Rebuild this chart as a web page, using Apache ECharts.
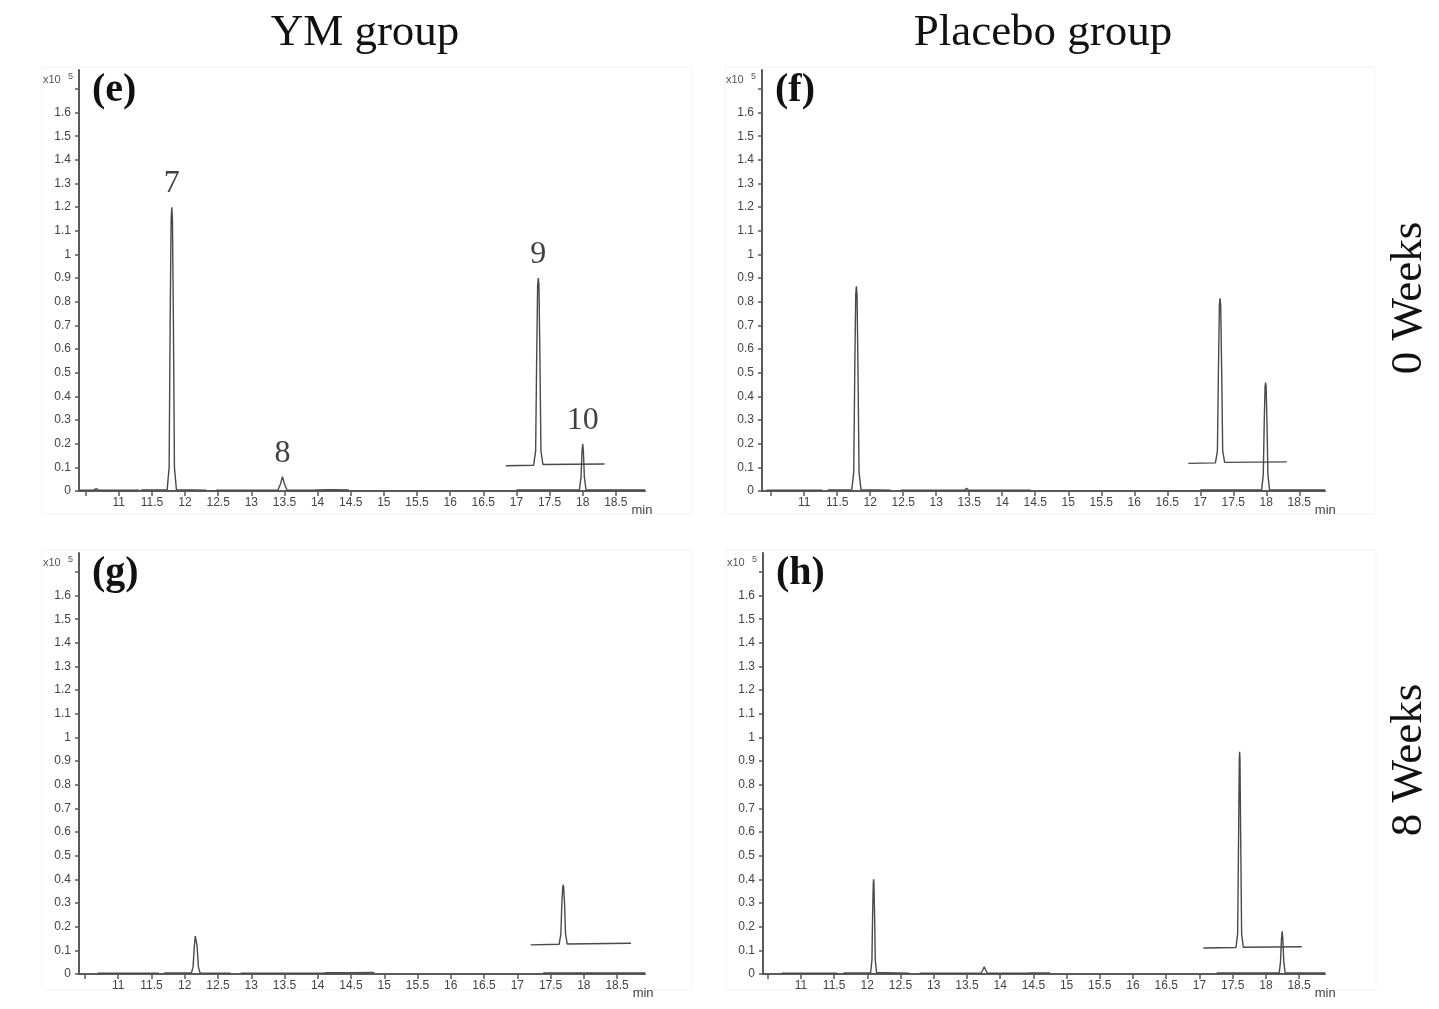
<!DOCTYPE html>
<html>
<head>
<meta charset="utf-8">
<title>GC chromatograms</title>
<script src="https://cdn.jsdelivr.net/npm/echarts@6/dist/echarts.min.js"></script>
<style>
html, body { margin: 0; padding: 0; background: #fff; }
#chart { width: 1439px; height: 1009px; }
</style>
</head>
<body>
<div id="chart"></div>
<script>
// axis ticks: retention time (min) and intensity (x10^5)
var timeTicks = [10.5, 11, 11.5, 12, 12.5, 13, 13.5, 14, 14.5, 15, 15.5, 16, 16.5, 17, 17.5, 18, 18.5];
var timeLabels = [11, 11.5, 12, 12.5, 13, 13.5, 14, 14.5, 15, 15.5, 16, 16.5, 17, 17.5, 18, 18.5];
var intensityTicks = [0, 0.1, 0.2, 0.3, 0.4, 0.5, 0.6, 0.7, 0.8, 0.9, 1, 1.1, 1.2, 1.3, 1.4, 1.5, 1.6, 1.7];
var intensityLabels = [0, 0.1, 0.2, 0.3, 0.4, 0.5, 0.6, 0.7, 0.8, 0.9, 1, 1.1, 1.2, 1.3, 1.4, 1.5, 1.6];

// (e) YM group, 0 weeks
var e_trace1 = [[10.41, 0.003], [10.62, 0.003], [10.66, 0.01], [10.70, 0.003], [11.31, 0.003]];
var e_trace2 = [[11.34, 0.004], [11.73, 0.005], [11.76, 0.1], [11.775, 0.7], [11.79, 1.15], [11.80, 1.2], [11.81, 1.15], [11.825, 0.7], [11.84, 0.1], [11.87, 0.006], [12.32, 0.003]];
var e_trace3 = [[12.47, 0.003], [13.40, 0.003], [13.44, 0.03], [13.47, 0.06], [13.50, 0.03], [13.54, 0.003], [13.93, 0.003], [13.96, 0.007], [13.99, 0.004], [14.17, 0.005], [14.20, 0.009], [14.23, 0.005], [14.47, 0.004]];
var e_trace4 = [[16.84, 0.107], [17.26, 0.109], [17.29, 0.17], [17.305, 0.55], [17.32, 0.87], [17.33, 0.9], [17.34, 0.87], [17.355, 0.55], [17.37, 0.17], [17.40, 0.112], [18.33, 0.114]];
var e_trace5 = [[17.0, 0.004], [17.95, 0.004], [17.975, 0.06], [17.99, 0.17], [18.0, 0.2], [18.01, 0.17], [18.025, 0.06], [18.05, 0.004], [18.94, 0.004]];
var e_peakNames = ['7', '8', '9', '10'];
var e_peakTimes = [11.80, 13.47, 17.33, 18.00];
var e_peakHeights = [1.2, 0.06, 0.9, 0.2];

// (f) Placebo group, 0 weeks
var f_trace1 = [[10.43, 0.003], [10.62, 0.003], [10.65, 0.009], [10.68, 0.003], [11.27, 0.003]];
var f_trace2 = [[11.36, 0.004], [11.72, 0.005], [11.75, 0.08], [11.765, 0.5], [11.78, 0.83], [11.79, 0.865], [11.80, 0.83], [11.815, 0.5], [11.83, 0.08], [11.86, 0.006], [12.31, 0.003]];
var f_trace3 = [[12.46, 0.003], [13.43, 0.003], [13.46, 0.012], [13.49, 0.003], [14.14, 0.003], [14.17, 0.009], [14.20, 0.003], [14.43, 0.003]];
var f_trace4 = [[16.82, 0.117], [17.23, 0.119], [17.26, 0.17], [17.275, 0.5], [17.29, 0.785], [17.30, 0.815], [17.31, 0.785], [17.325, 0.5], [17.34, 0.17], [17.37, 0.121], [18.31, 0.123]];
var f_trace5 = [[17.0, 0.004], [17.93, 0.004], [17.955, 0.07], [17.97, 0.3], [17.982, 0.44], [17.99, 0.458], [17.998, 0.44], [18.01, 0.3], [18.025, 0.07], [18.05, 0.004], [18.89, 0.004]];

// (g) YM group, 8 weeks
var g_trace1 = [[10.69, 0.003], [10.95, 0.003], [10.98, 0.008], [11.01, 0.003], [11.61, 0.003]];
var g_trace2 = [[11.69, 0.004], [12.10, 0.004], [12.125, 0.03], [12.145, 0.12], [12.158, 0.16], [12.165, 0.166], [12.172, 0.16], [12.185, 0.12], [12.205, 0.03], [12.23, 0.004], [12.69, 0.003]];
var g_trace3 = [[12.84, 0.003], [13.82, 0.003], [13.85, 0.009], [13.88, 0.003], [14.10, 0.003]];
var g_trace4 = [[14.10, 0.005], [14.45, 0.006], [14.48, 0.008], [14.51, 0.006], [14.85, 0.007]];
var g_trace5 = [[17.20, 0.123], [17.63, 0.126], [17.655, 0.17], [17.67, 0.3], [17.683, 0.365], [17.69, 0.377], [17.697, 0.365], [17.71, 0.3], [17.725, 0.17], [17.75, 0.127], [18.71, 0.13]];
var g_trace6 = [[17.39, 0.004], [18.37, 0.004], [18.40, 0.009], [18.43, 0.004], [18.92, 0.004]];

// (h) Placebo group, 8 weeks
var h_trace1 = [[10.71, 0.003], [10.91, 0.003], [10.94, 0.009], [10.97, 0.003], [11.55, 0.003]];
var h_trace2 = [[11.64, 0.004], [12.05, 0.004], [12.07, 0.06], [12.08, 0.25], [12.09, 0.38], [12.095, 0.40], [12.10, 0.38], [12.11, 0.25], [12.12, 0.06], [12.14, 0.005], [12.21, 0.005], [12.235, 0.013], [12.26, 0.005], [12.63, 0.003]];
var h_trace3 = [[12.79, 0.003], [13.71, 0.003], [13.74, 0.018], [13.76, 0.03], [13.78, 0.018], [13.81, 0.003], [14.40, 0.003], [14.43, 0.007], [14.46, 0.004], [14.75, 0.004]];
var h_trace4 = [[17.06, 0.11], [17.55, 0.112], [17.575, 0.17], [17.59, 0.6], [17.60, 0.91], [17.605, 0.94], [17.61, 0.91], [17.62, 0.6], [17.635, 0.17], [17.66, 0.113], [18.54, 0.115]];
var h_trace5 = [[17.26, 0.004], [18.20, 0.004], [18.22, 0.05], [18.235, 0.15], [18.245, 0.18], [18.255, 0.15], [18.27, 0.05], [18.29, 0.004], [18.89, 0.004]];

var panels = [
    { grid: { left: 79, top: 70, width: 566, height: 421 }, xMin: 10.40, xMax: 18.94,
      traces: [e_trace1, e_trace2, e_trace3, e_trace4, e_trace5], letter: '(e)' },
    { grid: { left: 762, top: 70, width: 563, height: 421 }, xMin: 10.36, xMax: 18.89,
      traces: [f_trace1, f_trace2, f_trace3, f_trace4, f_trace5], letter: '(f)' },
    { grid: { left: 79, top: 553, width: 566, height: 421 }, xMin: 10.41, xMax: 18.92,
      traces: [g_trace1, g_trace2, g_trace3, g_trace4, g_trace5, g_trace6], letter: '(g)' },
    { grid: { left: 763, top: 553, width: 562, height: 421 }, xMin: 10.43, xMax: 18.89,
      traces: [h_trace1, h_trace2, h_trace3, h_trace4, h_trace5], letter: '(h)' }
];

var axisColor = '#5a5a5a';
var tickFont = "'Liberation Sans Narrow', 'Liberation Sans', Arial, sans-serif";
var serif = "'Liberation Serif', 'DejaVu Serif', serif";

var option = {
    animation: false,
    backgroundColor: '#fff',
    grid: [],
    xAxis: [],
    yAxis: [],
    series: [],
    graphic: []
};

panels.forEach(function(p, gi) {
    option.grid.push(p.grid);
    option.xAxis.push({
        type: 'value', gridIndex: gi, min: p.xMin, max: p.xMax,
        splitLine: { show: false },
        axisLine: { onZero: false, lineStyle: { color: axisColor, width: 2 } },
        axisTick: { customValues: timeTicks, length: 5, lineStyle: { color: axisColor, width: 1.5 } },
        axisLabel: { customValues: timeLabels, margin: 6, fontSize: 12, color: '#444', fontFamily: tickFont },
        name: 'min', nameLocation: 'end', nameGap: -14,
        nameTextStyle: { fontSize: 13, color: '#444', fontFamily: tickFont, align: 'left', verticalAlign: 'top', padding: [13, 0, 0, 0] }
    });
    option.yAxis.push({
        type: 'value', gridIndex: gi, min: 0, max: 1.78,
        splitLine: { show: false },
        axisLine: { onZero: false, lineStyle: { color: axisColor, width: 2 } },
        axisTick: { customValues: intensityTicks, length: 4, lineStyle: { color: axisColor, width: 1.5 } },
        axisLabel: { customValues: intensityLabels, margin: 8, fontSize: 12, color: '#444', fontFamily: tickFont }
    });
    p.traces.forEach(function(tr) {
        option.series.push({
            type: 'line', xAxisIndex: gi, yAxisIndex: gi,
            data: tr, symbol: 'none',
            lineStyle: { color: '#4a4a4a', width: 1.4 },
            z: 3
        });
    });

    var g = p.grid;
    // faint panel frame
    option.graphic.push({
        type: 'rect', silent: true, z: -1,
        shape: { x: g.left - 37, y: g.top - 3, width: 650, height: g.top > 300 ? 440 : 447 },
        style: { fill: 'none', stroke: '#f3f3f3', lineWidth: 1 }
    });
    // x10^5 unit
    option.graphic.push({
        type: 'text', left: g.left - 36, top: g.top + 4,
        style: { text: 'x10', fontSize: 11, fill: '#555', fontFamily: tickFont }
    });
    option.graphic.push({
        type: 'text', left: g.left - 11, top: g.top + 2,
        style: { text: '5', fontSize: 9, fill: '#555', fontFamily: tickFont }
    });
    // panel letter
    option.graphic.push({
        type: 'text', left: g.left + 13, top: g.top + 1,
        style: { text: p.letter, fontSize: 40, fontWeight: 'bold', fill: '#111', fontFamily: serif }
    });
});

// peak numbers in panel (e)
option.series.push({
    type: 'scatter', xAxisIndex: 0, yAxisIndex: 0,
    data: e_peakTimes.map(function(t, i) { return { name: e_peakNames[i], value: [t, e_peakHeights[i]] }; }),
    symbolSize: 1, itemStyle: { color: 'rgba(0,0,0,0)' },
    label: { show: true, position: 'top', distance: 7, formatter: '{b}', fontSize: 32, color: '#111', fontFamily: serif },
    z: 5
});

// column and row headings
option.graphic.push(
    { type: 'text', x: 365, y: 33, style: { text: 'YM group', fontSize: 45, fill: '#111', fontFamily: serif, align: 'center', verticalAlign: 'middle' } },
    { type: 'text', x: 1043, y: 33, style: { text: 'Placebo group', fontSize: 45, fill: '#111', fontFamily: serif, align: 'center', verticalAlign: 'middle' } },
    { type: 'text', x: 1409, y: 298, rotation: Math.PI / 2, style: { text: '0 Weeks', fontSize: 45, fill: '#111', fontFamily: serif, align: 'center', verticalAlign: 'middle' } },
    { type: 'text', x: 1409, y: 760, rotation: Math.PI / 2, style: { text: '8 Weeks', fontSize: 45, fill: '#111', fontFamily: serif, align: 'center', verticalAlign: 'middle' } }
);

echarts.init(document.getElementById('chart'), null, { renderer: 'canvas' }).setOption(option);
</script>
</body>
</html>
